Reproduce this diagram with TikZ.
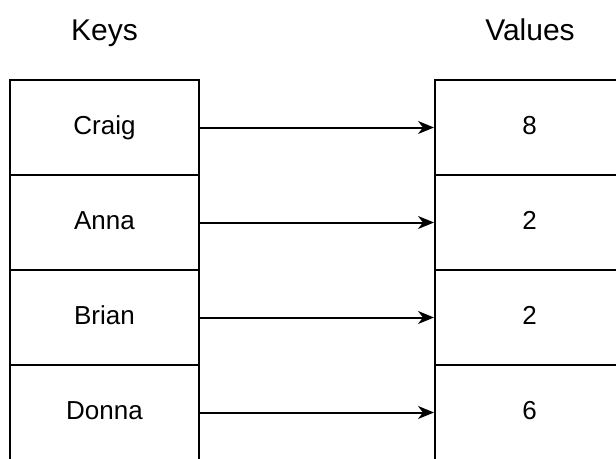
\documentclass[tikz,border=0pt]{standalone}
\usepackage{fontspec}
\setmainfont{Liberation Sans}
\usetikzlibrary{arrows.meta}
\begin{document}
\begin{tikzpicture}[x=1pt,y=-1pt,
  cell/.style={draw=black,line width=2pt,minimum width=189pt,minimum height=95pt,inner sep=0pt,
    font=\fontsize{26}{30}\selectfont,text height=18.6pt,text depth=5.5pt,anchor=center},
  header/.style={font=\fontsize{30}{34}\selectfont,anchor=base,inner sep=0pt},
  link/.style={line width=2pt,-{Stealth[length=16pt,width=13pt,inset=5pt]}}]
\useasboundingbox (0,0) rectangle (616,458);
\clip (0,0) rectangle (616,458);
\node[header] (hk) at (104.5,40) {Keys};
\node[header] (hv) at (530,40) {Values};
\node[cell] (k1) at (104.5,127.5) {Craig};
\node[cell] (k2) at (104.5,222.5) {Anna};
\node[cell] (k3) at (104.5,317.5) {Brian};
\node[cell] (k4) at (104.5,412.5) {Donna};
\node[cell] (v1) at (529.5,127.5) {8};
\node[cell] (v2) at (529.5,222.5) {2};
\node[cell] (v3) at (529.5,317.5) {2};
\node[cell] (v4) at (529.5,412.5) {6};
\draw[link] (k1.east) -- (v1.west);
\draw[link] (k2.east) -- (v2.west);
\draw[link] (k3.east) -- (v3.west);
\draw[link] (k4.east) -- (v4.west);
\end{tikzpicture}
\end{document}
